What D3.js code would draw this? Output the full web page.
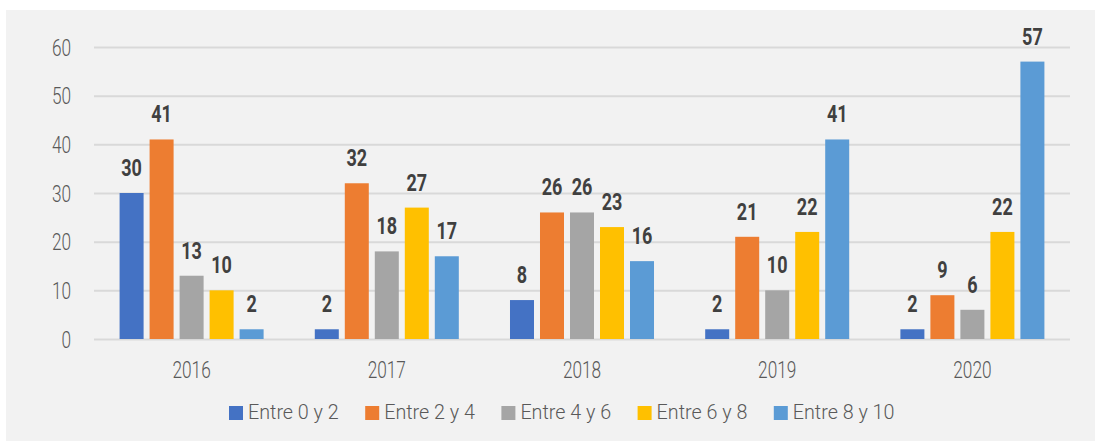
<!DOCTYPE html>
<html>
<head>
<meta charset="utf-8">
<script src="https://cdn.jsdelivr.net/npm/d3@7"></script>
<style>
  body { margin: 0; background: #fff; }
  text { font-family: Roboto, "Liberation Sans", sans-serif; }
</style>
</head>
<body>
<svg id="chart" width="1095" height="441"></svg>
<script>
"use strict";

// values
const years = ["2016", "2017", "2018", "2019", "2020"];
const series = ["Entre 0 y 2", "Entre 2 y 4", "Entre 4 y 6", "Entre 6 y 8", "Entre 8 y 10"];
const entre0y2 = [30, 2, 8, 2, 2];
const entre2y4 = [41, 32, 26, 21, 9];
const entre4y6 = [13, 18, 26, 10, 6];
const entre6y8 = [10, 27, 23, 22, 22];
const entre8y10 = [2, 17, 16, 41, 57];
const yTicks = [0, 10, 20, 30, 40, 50, 60];
const colors = ["#4472C4", "#ED7D31", "#A5A5A5", "#FFC000", "#5B9BD5"];

const values = [entre0y2, entre2y4, entre4y6, entre6y8, entre8y10];

// the original font is a condensed one, so squeeze text horizontally
const squeeze = 0.75;
const squeezeLegend = 0.94;

const svg = d3.select("#chart");

// light gray chart area
svg.append("rect")
    .attr("x", 6).attr("y", 10)
    .attr("width", 1089).attr("height", 431)
    .attr("fill", "#f2f2f2");

const margin = { left: 94, right: 1070, top: 47, bottom: 339 };

const x0 = d3.scaleBand()
    .domain(years)
    .range([margin.left, margin.right]);

const x1 = d3.scaleBand()
    .domain(series)
    .range([0, x0.bandwidth()])
    .paddingInner(0.2)
    .paddingOuter(0.853);

const y = d3.scaleLinear()
    .domain([0, 60])
    .range([margin.bottom, margin.top]);

const color = d3.scaleOrdinal().domain(series).range(colors);

// gridlines + y labels
const yAxis = svg.append("g")
    .attr("transform", `translate(${margin.left},0)`)
    .call(d3.axisLeft(y).tickValues(yTicks).tickSize(-(margin.right - margin.left)).tickPadding(23));
yAxis.select(".domain").remove();
yAxis.selectAll(".tick line").attr("stroke", "#d9d9d9").attr("stroke-width", 2);
yAxis.selectAll(".tick text")
    .attr("fill", "#595959")
    .attr("x", -23 / squeeze)
    .attr("transform", `scale(${squeeze},1)`)
    .style("font-size", "23px")
    .style("font-weight", 300)
    .attr("dy", "0.36em");

// x labels
svg.append("g").selectAll("text")
    .data(years)
    .join("text")
    .attr("transform", d => `translate(${x0(d) + x0.bandwidth() / 2},378) scale(${squeeze},1)`)
    .attr("text-anchor", "middle")
    .attr("fill", "#595959")
    .style("font-size", "23px")
    .style("font-weight", 300)
    .text(d => d);

// bars
const rows = [];
years.forEach((yr, i) => {
    series.forEach((s, j) => {
        rows.push({ year: yr, name: s, value: values[j][i] });
    });
});

const bars = svg.append("g");
bars.selectAll("rect")
    .data(rows)
    .join("rect")
    .attr("x", d => x0(d.year) + x1(d.name))
    .attr("y", d => y(d.value))
    .attr("width", x1.bandwidth())
    .attr("height", d => y(0) - y(d.value))
    .attr("fill", d => color(d.name));

bars.selectAll("text")
    .data(rows)
    .join("text")
    .attr("transform", d => `translate(${x0(d.year) + x1(d.name) + x1.bandwidth() / 2},${y(d.value) - 17}) scale(${squeeze},1)`)
    .attr("text-anchor", "middle")
    .attr("fill", "#404040")
    .style("font-size", "24px")
    .style("font-weight", "bold")
    .text(d => d.value);

// legend
const legend = svg.append("g").selectAll("g")
    .data(series)
    .join("g")
    .attr("transform", (d, i) => `translate(${229 + i * 136.2},406)`);

legend.append("rect")
    .attr("width", 14).attr("height", 14)
    .attr("fill", d => color(d));

legend.append("text")
    .attr("transform", `translate(19,13) scale(${squeezeLegend},1)`)
    .attr("fill", "#595959")
    .style("font-size", "21px")
    .style("font-weight", 300)
    .text(d => d);
</script>
</body>
</html>
